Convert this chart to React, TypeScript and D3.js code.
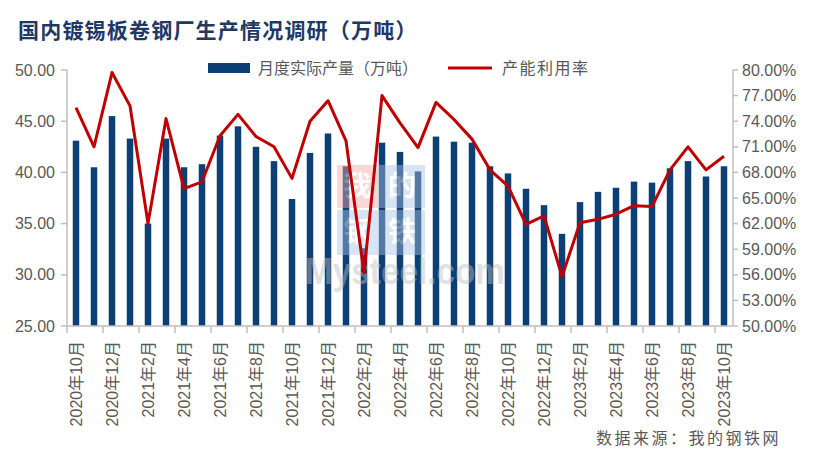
import React from "react";
import * as d3 from "d3";

const categories = [
  "2020年10月","2020年11月","2020年12月",
  "2021年1月","2021年2月","2021年3月","2021年4月","2021年5月","2021年6月",
  "2021年7月","2021年8月","2021年9月","2021年10月","2021年11月","2021年12月",
  "2022年1月","2022年2月","2022年3月","2022年4月","2022年5月","2022年6月",
  "2022年7月","2022年8月","2022年9月","2022年10月","2022年11月","2022年12月",
  "2023年1月","2023年2月","2023年3月","2023年4月","2023年5月","2023年6月",
  "2023年7月","2023年8月","2023年9月","2023年10月",
];

const production = [
  43.1, 40.5, 45.5,
  43.3, 35.0, 43.3, 40.5, 40.8, 43.6,
  44.5, 42.5, 41.1, 37.4, 41.9, 43.8,
  40.6, 32.6, 42.9, 42.0, 40.1, 43.5,
  43.0, 42.9, 40.6, 39.9, 38.4, 36.8,
  34.0, 37.1, 38.1, 38.5, 39.1, 39.0,
  40.4, 41.1, 39.6, 40.6,
];

const utilization = [
  75.6, 71.0, 79.7,
  75.8, 62.0, 74.3, 66.1, 66.9, 72.3,
  74.8, 72.2, 71.0, 67.3, 74.0, 76.4,
  71.7, 56.2, 77.0, 73.8, 70.9, 76.2,
  74.2, 71.9, 68.3, 66.4, 61.9, 62.9,
  55.8, 62.1, 62.5, 63.1, 64.1, 64.0,
  68.3, 71.0, 68.3, 69.9,
];

const leftTicks = [25, 30, 35, 40, 45, 50];
const rightTicks = [50, 53, 56, 59, 62, 65, 68, 71, 74, 77, 80];

const title = "国内镀锡板卷钢厂生产情况调研（万吨）";
const legendBar = "月度实际产量（万吨）";
const legendLine = "产能利用率";
const source = "数据来源：我的钢铁网";
const logoChars = ["我", "的", "钢", "铁"];
const watermark = "Mysteel.com";

const W = 813;
const H = 459;
const L = 67;
const R = 733;
const T = 70;
const B = 326;

const BAR = "#0c3f73";
const LINE = "#c00000";
const AXIS = "#bfbfbf";
const TXT = "#595959";
const NUM = "'Liberation Sans', Arial, 'Noto Sans CJK SC', sans-serif";
const CJK = "'Noto Sans CJK SC', sans-serif";

export default function App() {
  const x = d3.scaleBand<string>().domain(categories).range([L, R]).paddingInner(0).paddingOuter(0);
  const yL = d3.scaleLinear().domain([25, 50]).range([B, T]);
  const yR = d3.scaleLinear().domain([50, 80]).range([B, T]);
  const bw = 6.5;
  const cx = (c: string) => (x(c) as number) + x.bandwidth() / 2;

  const line = d3
    .line<number>()
    .x((_, i) => cx(categories[i]))
    .y((d) => yR(d));

  const tickCats = categories.filter((_, i) => i % 2 === 0);

  const logoBoxes = [
    { x: 337, y: 165, w: 41, h: 43, fill: "#f2a8a8" },
    { x: 379, y: 165, w: 46, h: 43, fill: "#a9c2e6" },
    { x: 337, y: 210, w: 41, h: 45, fill: "#a9c2e6" },
    { x: 379, y: 210, w: 46, h: 45, fill: "#a9c2e6" },
  ];

  return (
    <svg width={W} height={H} style={{ position: "absolute", left: 0, top: 0, background: "#fff" }}>
      <rect x={0} y={0} width={W} height={H} fill="#fff" />
      <text x={18} y={38} fontFamily={CJK} fontSize={21} fontWeight="bold" fill="#1f3864" letterSpacing={1.2}>
        {title}
      </text>

      {/* legend */}
      <rect x={208} y={63} width={42} height={10} fill={BAR} />
      <text x={258} y={74} fontFamily={CJK} fontSize={16} fill={TXT}>{legendBar}</text>
      <line x1={448} x2={492} y1={68} y2={68} stroke={LINE} strokeWidth={3} />
      <text x={502} y={74} fontFamily={CJK} fontSize={16} fill={TXT} letterSpacing={1.5}>{legendLine}</text>

      {/* bars */}
      {production.map((v, i) => (
        <rect key={i} x={cx(categories[i]) - bw / 2} y={yL(v)} width={bw} height={B - yL(v)} fill={BAR} />
      ))}

      {/* watermark */}
      <g opacity={0.45}>
        {logoBoxes.map((b, i) => (
          <g key={i}>
            <rect x={b.x} y={b.y} width={b.w} height={b.h} fill={b.fill} />
            <text
              x={b.x + b.w / 2}
              y={b.y + b.h / 2}
              dy="0.33em"
              textAnchor="middle"
              fontFamily={CJK}
              fontSize={28}
              fontWeight="bold"
              fill="#fff"
            >
              {logoChars[i]}
            </text>
          </g>
        ))}
        <text x={305} y={284} fontFamily="'Liberation Sans', Arial, sans-serif" fontSize={36} fontWeight="bold" fill="#bdbdbd" textLength={200} lengthAdjust="spacingAndGlyphs">{watermark}</text>
      </g>

      {/* line */}
      <path d={line(utilization) || ""} fill="none" stroke={LINE} strokeWidth={3} strokeLinejoin="round" />

      {/* axes */}
      <line x1={L} x2={L} y1={T} y2={B} stroke={AXIS} strokeWidth={1.5} />
      <line x1={R} x2={R} y1={T} y2={B} stroke={AXIS} strokeWidth={1.5} />
      <line x1={L} x2={R} y1={B} y2={B} stroke={AXIS} strokeWidth={1.5} />
      {leftTicks.map((t) => (
        <g key={"l" + t}>
          <line x1={L - 6} x2={L} y1={yL(t)} y2={yL(t)} stroke={AXIS} strokeWidth={1.5} />
          <text x={55} y={yL(t)} dy="0.35em" textAnchor="end" fontFamily={NUM} fontSize={16} fill={TXT}>
            {d3.format(".2f")(t)}
          </text>
        </g>
      ))}
      {rightTicks.map((t) => (
        <g key={"r" + t}>
          <line x1={R} x2={R + 5} y1={yR(t)} y2={yR(t)} stroke={AXIS} strokeWidth={1.5} />
          <text x={742} y={yR(t)} dy="0.35em" textAnchor="start" fontFamily={NUM} fontSize={16} fill={TXT}>
            {d3.format(".2f")(t) + "%"}
          </text>
        </g>
      ))}
      {tickCats.map((c) => (
        <g key={c}>
          <line x1={x(c) as number} x2={x(c) as number} y1={B} y2={B + 7} stroke={AXIS} strokeWidth={1.5} />
          <text
            transform={`translate(${cx(c) + 5.5},${341}) rotate(-90)`}
            textAnchor="end"
            fontFamily={NUM}
            fontSize={16}
            fill={TXT}
          >
            {c}
          </text>
        </g>
      ))}

      <text x={596} y={444} fontFamily={CJK} fontSize={16} fill={TXT} letterSpacing={2.5}>{source}</text>
    </svg>
  );
}
